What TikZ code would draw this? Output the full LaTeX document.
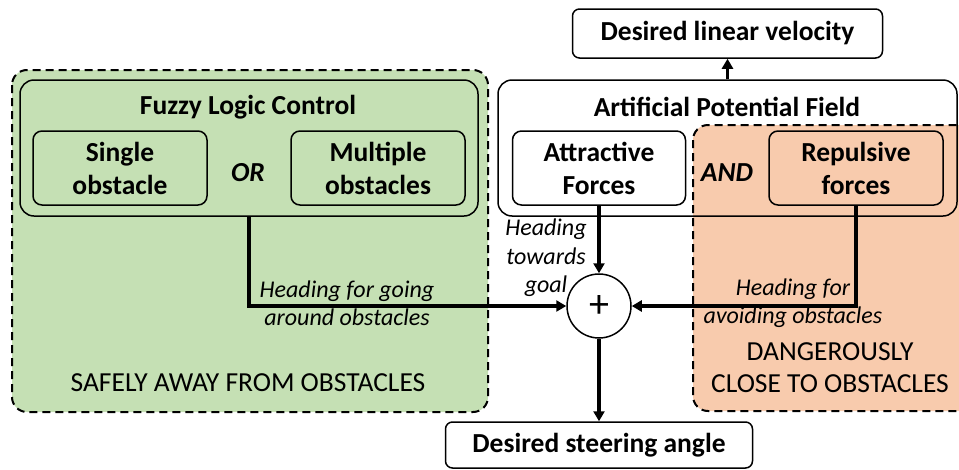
\documentclass[tikz,border=0pt]{standalone}
\usepackage{fontspec}
\setmainfont{Carlito}
\usetikzlibrary{arrows.meta}
\definecolor{gfill}{HTML}{C5E0B4}
\definecolor{ofill}{HTML}{F8CBAD}
\tikzset{
  region/.style={draw=black, line width=2pt, dash pattern=on 8pt off 5pt, rounded corners=15pt},
  bigbox/.style={draw=black, line width=1.5pt, rounded corners=14pt, inner sep=0pt},
  smallbox/.style={draw=black, line width=1.5pt, rounded corners=9pt, align=center, inner sep=0pt,
     font=\fontsize{27.5}{33}\selectfont\bfseries, minimum width=174pt, minimum height=74pt},
  outbox/.style={draw=black, line width=1.5pt, rounded corners=7pt, inner sep=0pt,
     font=\fontsize{27.5}{30}\selectfont\bfseries},
  title/.style={font=\fontsize{27.5}{30}\selectfont\bfseries},
  lbl/.style={font=\fontsize{24}{28.5}\selectfont\itshape, inner sep=0pt},
  zone/.style={font=\fontsize{27.5}{32}\selectfont, align=center, inner sep=0pt},
  logic/.style={font=\fontsize{27.5}{30}\selectfont\bfseries\itshape},
  arr/.style={line width=3.5pt, -{Triangle[length=10pt,width=11pt]}},
}
\begin{document}
\begin{tikzpicture}[x=1pt,y=-1pt]
\useasboundingbox (0,0) rectangle (959,469);
% regions
\draw[region, fill=gfill] (12,70) rectangle (488,412);
\fill[white, rounded corners=14pt] (498,80) rectangle (957,216);
\draw[region, fill=ofill] (693,125) rectangle (985,411);
% big boxes
\node[bigbox, minimum width=458pt, minimum height=136pt] (flc) at (249,148) {};
\node[bigbox, minimum width=459pt, minimum height=136pt] (apf) at (727.5,148) {};
\node[title] (flct) at (248,107) {Fuzzy Logic Control};
\node[title] (apft) at (727,107) {Artificial Potential Field};
% small boxes
\node[smallbox] (single) at (120,168) {Single\\obstacle};
\node[smallbox] (multi) at (378,168) {Multiple\\obstacles};
\node[smallbox, fill=white, minimum width=173pt] (attr) at (599,168) {Attractive\\Forces};
\node[smallbox, fill=ofill] (rep) at (856,168) {Repulsive\\forces};
\node[logic] (or) at (248,173) {OR};
\node[logic] (and) at (727,173) {AND};
% outputs
\node[outbox, minimum width=310pt, minimum height=49pt] (vel) at (727.5,33.5) {Desired linear velocity};
\node[outbox, minimum width=307pt, minimum height=46pt] (steer) at (599,445) {Desired steering angle};
% sum
\node[draw=black, line width=1.5pt, circle, minimum size=64pt, inner sep=0pt, fill=white,
  font=\fontsize{40}{40}\selectfont] (sum) at (599,306) {+};
% connectors
\draw[arr] (apf.north) -- (vel.south);
\draw[arr] (flc.south) |- (sum.west);
\draw[arr] (attr.south) -- (sum.north);
\draw[arr] (rep.south) |- (sum.east);
\draw[arr] (sum.south) -- (steer.north);
% labels
\node[lbl, align=center] (l1) at (347,303.5) {Heading for going\\around obstacles};
\node[lbl, align=center] (l2) at (546,258) {Heading\\towards\\goal};
\node[lbl, align=center] (l3) at (793,303) {Heading for\\avoiding obstacles};
\node[zone] (z1) at (248,383) {SAFELY AWAY FROM OBSTACLES};
\node[zone] (z2) at (830,368) {DANGEROUSLY\\CLOSE TO OBSTACLES};
\end{tikzpicture}
\end{document}
